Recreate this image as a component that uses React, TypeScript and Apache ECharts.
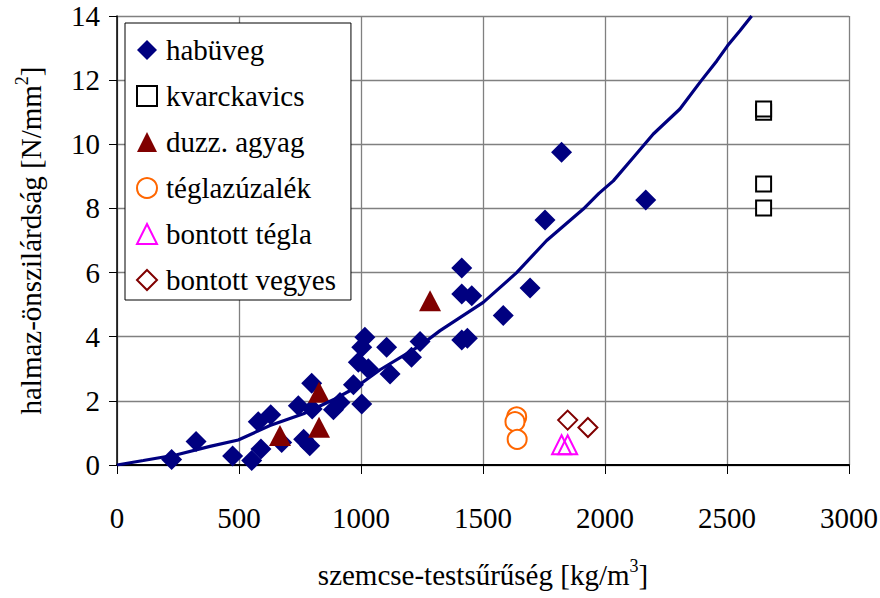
import React, { useEffect, useRef } from "react";
import * as echarts from "echarts";

const FONT = "Liberation Serif";

const xTicks = [0, 500, 1000, 1500, 2000, 2500, 3000];
const yTicks = [0, 2, 4, 6, 8, 10, 12, 14];

const habuveg: [number, number][] = [
  [224, 0.17], [324, 0.73], [474, 0.28], [552, 0.14], [590, 0.5], [579, 1.35],
  [630, 1.57], [675, 0.7], [743, 1.85], [765, 0.8], [790, 0.6], [798, 2.55],
  [800, 1.75], [887, 1.72], [914, 1.95], [969, 2.5], [1003, 1.9], [989, 3.2],
  [1030, 3.0], [1003, 3.67], [1016, 3.98], [1105, 3.67], [1119, 2.84], [1207, 3.36],
  [1242, 3.85], [1413, 6.14], [1413, 5.33], [1454, 5.28], [1413, 3.9], [1436, 3.95],
  [1583, 4.66], [1693, 5.52], [1754, 7.64], [1822, 9.75], [2167, 8.26],
];
const kvarckavics: [number, number][] = [
  [2650, 11.0], [2650, 11.1], [2650, 8.76], [2650, 8.01],
];
const duzzAgyag: [number, number][] = [
  [668, 0.92], [828, 2.27], [828, 1.18], [1283, 5.12],
];
const teglazuzalek: [number, number][] = [
  [1638, 1.5], [1631, 1.35], [1640, 0.8],
];
const bontottTegla: [number, number][] = [
  [1822, 0.63], [1847, 0.63],
];
const bontottVegyes: [number, number][] = [
  [1847, 1.4], [1930, 1.17],
];
const trend: [number, number][] = [
  [0, 0], [108, 0.14], [245, 0.32], [381, 0.58], [497, 0.78], [627, 1.23],
  [764, 1.6], [893, 2.06], [975, 2.4], [1078, 2.97], [1242, 3.72], [1324, 4.19],
  [1501, 5.07], [1638, 6.0], [1761, 7.0], [1911, 7.98], [1975, 8.47], [2034, 8.86],
  [2116, 9.59], [2198, 10.32], [2307, 11.1], [2389, 11.93], [2458, 12.6],
  [2502, 13.07], [2553, 13.54], [2601, 14],
];

const seriesNames = [
  "habüveg",
  "kvarckavics",
  "duzz. agyag",
  "téglazúzalék",
  "bontott tégla",
  "bontott vegyes",
];

export default function App() {
  const ref = useRef<HTMLDivElement>(null);
  useEffect(() => {
    if (!ref.current) return;
    const chart = echarts.init(ref.current, undefined, { renderer: "svg" });
    const labelStyle = { fontFamily: FONT, fontSize: 29, color: "#000" };
    chart.setOption({
      animation: false,
      backgroundColor: "#fff",
      textStyle: { fontFamily: FONT },
      grid: {
        left: 117,
        top: 16,
        right: 31,
        bottom: 133,
        outerBoundsMode: "none",
        containLabel: false,
      },
      legend: {
        orient: "vertical",
        left: 125,
        top: 23,
        data: seriesNames,
        backgroundColor: "#fff",
        borderColor: "#000",
        borderWidth: 1,
        padding: [12, 15, 5, 11],
        itemWidth: 20,
        itemHeight: 20,
        itemGap: 16,
        selectedMode: false,
        textStyle: { ...labelStyle, lineHeight: 30, padding: [0, 0, 0, 4] },
      },
      xAxis: {
        type: "value",
        min: xTicks[0],
        max: xTicks[xTicks.length - 1],
        interval: 500,
        name: "{a|szemcse-testsűrűség [kg/m}{s|3}{a|]}",
        nameLocation: "middle",
        nameGap: 92,
        nameTextStyle: {
          rich: {
            a: { ...labelStyle },
            s: { fontFamily: FONT, fontSize: 18, color: "#000", padding: [0, 0, 18, 0] },
          },
        },
        axisLine: { show: true, lineStyle: { color: "#000", width: 2 } },
        axisTick: { show: true, inside: false, length: 9, lineStyle: { color: "#000", width: 1 } },
        axisLabel: { ...labelStyle, margin: 38, formatter: (v: number) => String(v) },
        splitLine: { show: true, lineStyle: { color: "#808080", width: 1.3 } },
      },
      yAxis: {
        type: "value",
        min: yTicks[0],
        max: yTicks[yTicks.length - 1],
        interval: 2,
        name: "{a|halmaz-önszilárdság [N/mm}{s|2}{a|]}",
        nameLocation: "middle",
        nameRotate: 90,
        nameGap: 68,
        nameTextStyle: {
          rich: {
            a: { ...labelStyle },
            s: { fontFamily: FONT, fontSize: 18, color: "#000", padding: [0, 0, 18, 0] },
          },
        },
        axisLine: { show: true, lineStyle: { color: "#000", width: 1.5 } },
        axisTick: { show: true, inside: false, length: 8, lineStyle: { color: "#000", width: 1 } },
        axisLabel: { ...labelStyle, margin: 17, formatter: (v: number) => String(v) },
        splitLine: { show: true, lineStyle: { color: "#808080", width: 1.3 } },
      },
      series: [
        {
          name: seriesNames[0],
          type: "scatter",
          symbol: "diamond",
          symbolSize: 21,
          data: habuveg,
          itemStyle: { color: "#000080", opacity: 1 },
        },
        {
          name: seriesNames[1],
          type: "scatter",
          symbol: "rect",
          symbolSize: 15,
          data: kvarckavics,
          itemStyle: { color: "#fff", borderColor: "#000", borderWidth: 2, opacity: 1 },
        },
        {
          name: seriesNames[2],
          type: "scatter",
          symbol: "triangle",
          symbolSize: [22, 21],
          data: duzzAgyag,
          itemStyle: { color: "#800000", opacity: 1 },
        },
        {
          name: seriesNames[3],
          type: "scatter",
          symbol: "circle",
          symbolSize: 19,
          data: teglazuzalek,
          itemStyle: { color: "#fff", borderColor: "#FF6600", borderWidth: 2, opacity: 1 },
        },
        {
          name: seriesNames[4],
          type: "scatter",
          symbol: "triangle",
          symbolSize: [19, 19],
          data: bontottTegla,
          itemStyle: { color: "rgba(255,255,255,0)", borderColor: "#FF00FF", borderWidth: 2, opacity: 1 },
        },
        {
          name: seriesNames[5],
          type: "scatter",
          symbol: "diamond",
          symbolSize: 19,
          data: bontottVegyes,
          itemStyle: { color: "#fff", borderColor: "#800000", borderWidth: 2, opacity: 1 },
        },
        {
          name: "trend",
          type: "line",
          data: trend,
          showSymbol: false,
          symbol: "none",
          smooth: false,
          lineStyle: { color: "#000080", width: 3.2 },
          z: 3,
        },
      ],
    });
    return () => chart.dispose();
  }, []);
  return (
    <div
      ref={ref}
      style={{ position: "absolute", left: 0, top: 0, width: 880, height: 598 }}
    />
  );
}
